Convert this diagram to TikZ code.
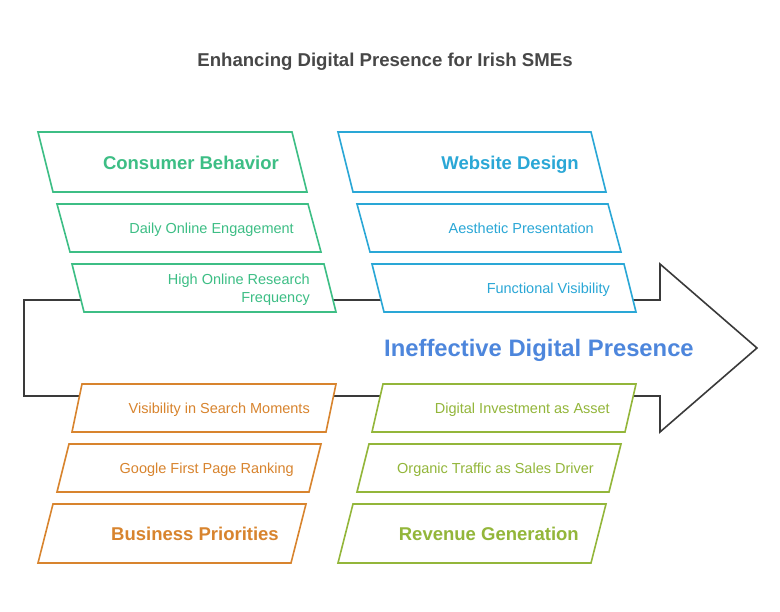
\documentclass[tikz,border=0pt]{standalone}
\usepackage{fontspec}
\setmainfont{Liberation Sans}
\definecolor{cgreen}{HTML}{3DBE85}
\definecolor{cblue}{HTML}{2AA7D6}
\definecolor{corange}{HTML}{D8842E}
\definecolor{colive}{HTML}{93B63A}
\definecolor{ccenter}{HTML}{4D86DC}
\definecolor{ctitle}{HTML}{474747}
\definecolor{carrow}{HTML}{3A3A3A}
\newcommand\slantbox[6]{%
  \draw[boxline,draw=#6] (#1,#3) -- ++(#2,0) -- ++(#5,#4) -- ++(-#2,0) -- cycle;}
\tikzset{
  boxline/.style={line width=1.6pt, fill=white, line join=miter},
  head/.style={anchor=east, font=\fontsize{18.5}{22}\selectfont\bfseries, inner sep=0pt, text height=13.25pt, text depth=0pt},
  item/.style={anchor=east, font=\fontsize{14.5}{18}\selectfont, inner sep=0pt, align=right, text height=10.4pt, text depth=0pt},
}
\begin{document}
\begin{tikzpicture}[x=1pt,y=-1pt]
\useasboundingbox (0,0) rectangle (780,612);
\node[font=\fontsize{18.6}{22}\selectfont\bfseries, text=ctitle, inner sep=0pt, text height=13.3pt, text depth=0pt] (title) at (385,60) {Enhancing Digital Presence for Irish SMEs};
% big arrow
\draw[line width=1.6pt, draw=carrow, line join=miter] (24,300) -- (660,300) -- (660,264) -- (757,348) -- (660,432) -- (660,396) -- (24,396) -- cycle;
\node[font=\fontsize{23.8}{28}\selectfont\bfseries, text=ccenter, inner sep=0pt, text height=17pt, text depth=0pt] (center) at (539,348) {Ineffective Digital Presence};
% top-left column
\slantbox{38}{254}{132}{60}{15}{cgreen}
\node[head,text=cgreen] (cb) at (279,163) {Consumer Behavior};
\slantbox{57}{251}{204}{48}{13}{cgreen}
\node[item,text=cgreen] (doe) at (294,228) {Daily Online Engagement};
\slantbox{72}{252}{264}{48}{12}{cgreen}
\node[item,text=cgreen] (hor) at (310,297) {High Online Research\\Frequency};
% top-right column
\slantbox{338}{253}{132}{60}{15}{cblue}
\node[head,text=cblue] (wd) at (579,163) {Website Design};
\slantbox{357}{251}{204}{48}{13}{cblue}
\node[item,text=cblue] (ap) at (594,228) {Aesthetic Presentation};
\slantbox{372}{252}{264}{48}{12}{cblue}
\node[item,text=cblue] (fv) at (610,288) {Functional Visibility};
% bottom-left column
\slantbox{82}{254}{384}{48}{-10}{corange}
\node[item,text=corange] (vsm) at (310,408) {Visibility in Search Moments};
\slantbox{69}{252}{444}{48}{-12}{corange}
\node[item,text=corange] (gfp) at (294,468) {Google First Page Ranking};
\slantbox{53}{253}{504}{59}{-15}{corange}
\node[head,text=corange] (bp) at (279,534) {Business Priorities};
% bottom-right column
\slantbox{383}{253}{384}{48}{-11}{colive}
\node[item,text=colive] (dia) at (610,408) {Digital Investment as Asset};
\slantbox{369}{252}{444}{48}{-12}{colive}
\node[item,text=colive] (ots) at (594,468) {Organic Traffic as Sales Driver};
\slantbox{353}{253}{504}{59}{-15}{colive}
\node[head,text=colive] (rg) at (579,534) {Revenue Generation};
\end{tikzpicture}
\end{document}
